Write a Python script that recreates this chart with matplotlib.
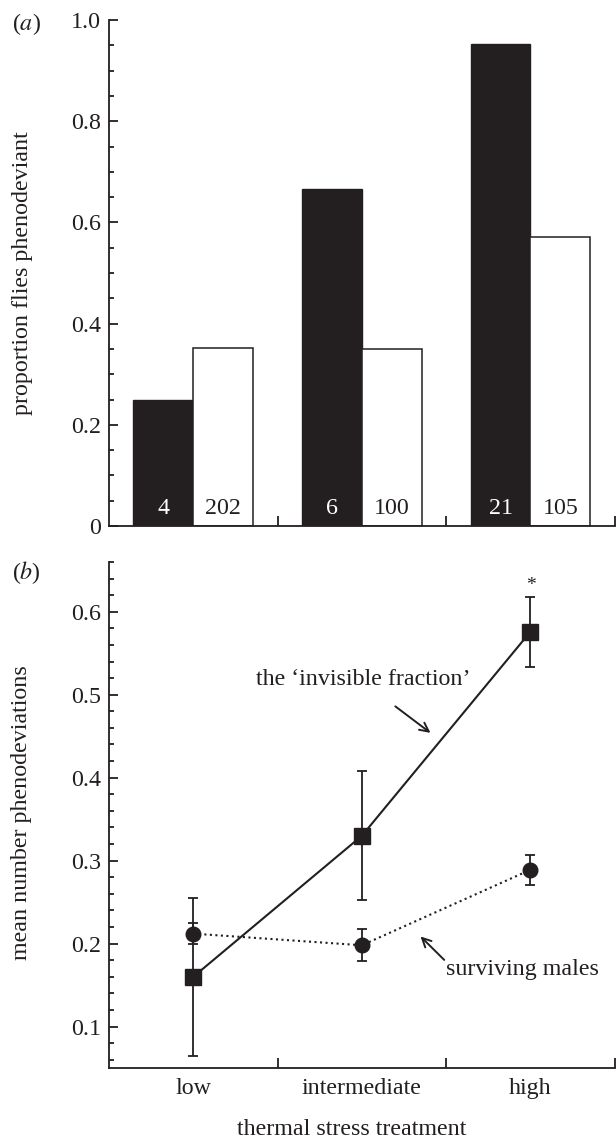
import matplotlib
matplotlib.use('Agg')
import matplotlib.pyplot as plt
import numpy as np

plt.rcParams['font.family'] = ['Liberation Serif', 'DejaVu Serif']
plt.rcParams['mathtext.fontset'] = 'stix'

INK = '#231f20'
FS = 17.3

# panel (a): proportion of flies phenodeviant
treatments = ['low', 'intermediate', 'high']
prop_dead = [0.25, 0.667, 0.952]
prop_alive = [0.351, 0.35, 0.571]
n_dead = ['4', '6', '21']
n_alive = ['202', '100', '105']

# panel (b): mean number of phenodeviations
inv_mean = [0.160, 0.330, 0.576]
inv_err = [0.095, 0.078, 0.042]
surv_mean = [0.212, 0.198, 0.289]
surv_err = [0.013, 0.019, 0.018]

fig = plt.figure(figsize=(6.16, 11.39), dpi=100)
ax_a = fig.add_axes([0.177, 0.5382, 0.821, 0.4442])
ax_b = fig.add_axes([0.177, 0.0623, 0.821, 0.4443])

x = np.arange(len(treatments))
w = 0.355


def style_axis(ax):
    for s in ['top', 'right']:
        ax.spines[s].set_visible(False)
    for s in ['left', 'bottom']:
        ax.spines[s].set_linewidth(1.3)
        ax.spines[s].set_color(INK)
    ax.set_xlim(-0.5, 2.5)
    ax.set_xticks([0.5, 1.5, 2.5])
    ax.set_xticklabels([])
    ax.tick_params(axis='x', which='major', direction='in', length=7, width=1.3, color=INK)
    ax.tick_params(axis='y', which='major', direction='in', length=6.3, width=1.3,
                   color=INK, labelsize=FS, pad=6, labelcolor=INK)
    ax.tick_params(axis='y', which='minor', direction='in', length=3.8, width=1.3, color=INK)


# ---- panel a
ax_a.bar(x - w / 2, prop_dead, width=w, color=INK, edgecolor=INK, linewidth=1)
ax_a.bar(x + w / 2, prop_alive, width=w, color='white', edgecolor=INK, linewidth=1.1)
for i in range(len(x)):
    ax_a.text(x[i] - w / 2, 0.034, n_dead[i], color='white', ha='center', va='center', fontsize=FS)
    ax_a.text(x[i] + w / 2, 0.034, n_alive[i], color=INK, ha='center', va='center', fontsize=FS)

style_axis(ax_a)
ax_a.set_ylim(0, 1.0)
ax_a.set_yticks([0, 0.2, 0.4, 0.6, 0.8, 1.0])
ax_a.set_yticklabels(['0', '0.2', '0.4', '0.6', '0.8', '1.0'])
ax_a.set_yticks(np.arange(0, 1.0001, 0.05), minor=True)
ax_a.set_ylabel('proportion flies phenodeviant', fontsize=FS, color=INK)
ax_a.yaxis.set_label_coords(-0.15, 0.5)

# ---- panel b
ax_b.errorbar(x, inv_mean, yerr=inv_err, color=INK, linestyle='-', linewidth=1.5,
              marker='s', markersize=11.5, capsize=3.5, elinewidth=1.3, capthick=1.3, zorder=3)
ax_b.errorbar(x, surv_mean, yerr=surv_err, color=INK, linestyle=':', linewidth=1.5,
              marker='o', markersize=10.5, capsize=3.5, elinewidth=1.3, capthick=1.3, zorder=3)
ax_b.text(x[2], inv_mean[2] + inv_err[2] + 0.004, '*', ha='center', va='bottom', fontsize=14, color=INK)

ax_b.text(0.37, 0.518, 'the \u2018invisible fraction\u2019', fontsize=FS, color=INK, va='center', ha='left')
ax_b.annotate('', xy=(1.42, 0.452), xytext=(1.185, 0.488),
              arrowprops=dict(arrowstyle='->', color=INK, lw=1.4, mutation_scale=16))
ax_b.text(1.5, 0.169, 'surviving males', fontsize=FS, color=INK, va='center', ha='left')
ax_b.annotate('', xy=(1.336, 0.211), xytext=(1.5, 0.178),
              arrowprops=dict(arrowstyle='->', color=INK, lw=1.4, mutation_scale=16))

style_axis(ax_b)
ax_b.set_ylim(0.05, 0.66)
ax_b.set_yticks([0.1, 0.2, 0.3, 0.4, 0.5, 0.6])
ax_b.set_yticks(np.arange(0.06, 0.6601, 0.02), minor=True)
ax_b.set_xticks(x, treatments, minor=True)
ax_b.tick_params(axis='x', which='minor', length=0, labelsize=FS, pad=7, labelcolor=INK)
ax_b.set_ylabel('mean number phenodeviations', fontsize=FS, color=INK)
ax_b.yaxis.set_label_coords(-0.152, 0.505)
ax_b.set_xlabel('thermal stress treatment', fontsize=FS, color=INK)
ax_b.xaxis.set_label_coords(0.48, -0.1)

fig.text(12 / 616, 1 - 24 / 1139, '($a$)', fontsize=FS, va='center', ha='left', color=INK)
fig.text(12 / 616, 1 - 573 / 1139, '($b$)', fontsize=FS, va='center', ha='left', color=INK)

fig.savefig('out.png', dpi=100)
